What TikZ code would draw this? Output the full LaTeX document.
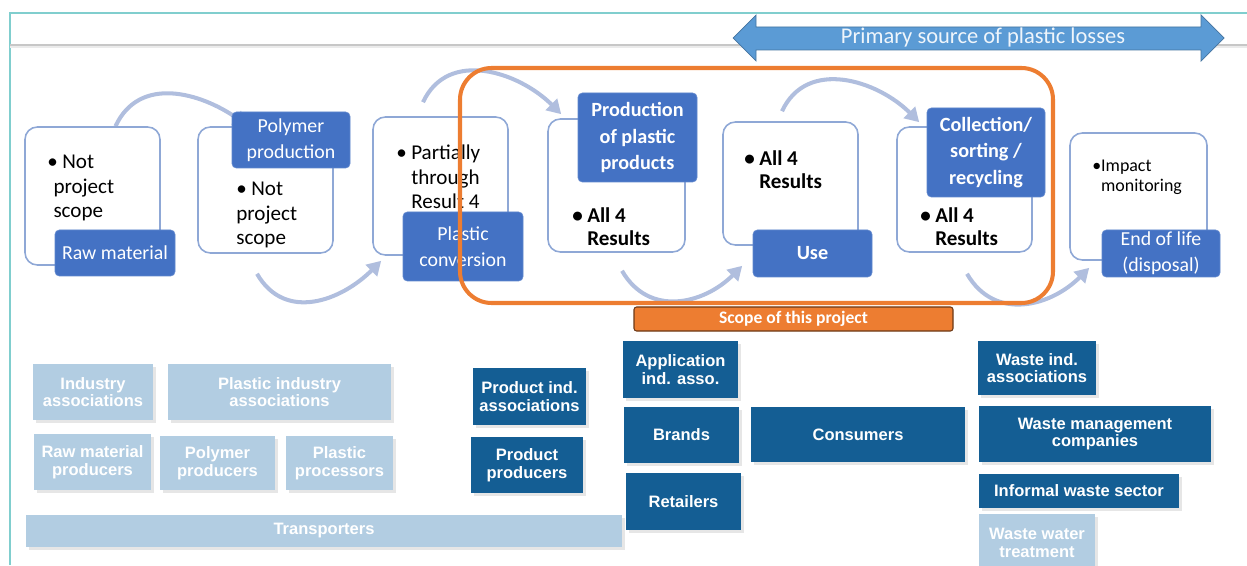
\documentclass[tikz,border=0pt]{standalone}
\usepackage{fontspec}
\setmainfont{Carlito}
\newfontfamily\actorfont{Liberation Sans}
\usetikzlibrary{arrows.meta,positioning,calc,shadows,backgrounds}
\definecolor{frameteal}{RGB}{128,206,206}
\definecolor{lossblue}{RGB}{91,155,213}
\definecolor{stepedge}{RGB}{143,168,214}
\definecolor{stepblue}{RGB}{68,114,196}
\definecolor{flowgrey}{RGB}{176,190,222}
\definecolor{scopeorange}{RGB}{237,125,49}
\definecolor{actordark}{RGB}{20,94,148}
\definecolor{actorlight}{RGB}{178,205,226}
\tikzset{
  sz/.style 2 args={minimum width=#1*0.02cm,minimum height=#2*0.02cm},
  stage/.style={draw=stepedge,line width=0.9pt,fill=white,rounded corners=7pt,inner sep=0pt},
  tag/.style={fill=stepblue,draw=stepblue!85!white,rounded corners=2.5pt,text=white,
    align=center,inner sep=0pt,font=\fontsize{11.3}{15}\selectfont},
  bold tag/.style={tag,font=\fontsize{11.5}{15}\selectfont\bfseries},
  note/.style={anchor=north west,align=left,inner sep=0pt,font=\fontsize{12}{13.8}\selectfont},
  bold note/.style={note,font=\fontsize{12}{13.5}\selectfont\bfseries},
  turn/.style={flowgrey,line width=2.3pt,-{Triangle[length=8pt,width=9pt]}},
  actor/.style={fill=#1,text=white,inner sep=0pt,align=center,
    font=\actorfont\bfseries\fontsize{9.4}{10}\selectfont,
    drop shadow={shadow xshift=1.5pt,shadow yshift=-1.5pt,opacity=0.2}},
  actor/.default=actordark,
}
\newcommand{\bl}{\makebox[8.5pt][l]{\textbullet}}
\newcommand{\ind}{\hspace*{8.5pt}}

\begin{document}
\begin{tikzpicture}[x=0.02cm,y=0.02cm]
  \useasboundingbox (0,0) rectangle (1247,565);
  % slide frame
  \draw[frameteal,line width=0.8pt] (10,0) -- (10,552) -- (1247,552);
  \draw[black!22,line width=1.2pt] (10,520) -- (1247,520);
  \draw[black!8,line width=1.5pt] (10,518) -- (1247,518);

  % losses arrow
  \filldraw[fill=lossblue,draw=lossblue!75!black,line width=0.4pt]
    (733,527) -- (756,550) -- (756,538) -- (1201,538) -- (1201,550) -- (1224,527)
    -- (1201,504) -- (1201,515) -- (756,515) -- (756,504) -- cycle;
  \node[text=white!90!lossblue,font=\fontsize{12.8}{15}\selectfont] (loss) at (983,527)
    {Primary source of plastic losses};

  % value chain stages
  \node[stage,sz={135}{138}] (s1) at (92.5,369) {};
  \node[stage,sz={135}{126}] (s2) at (265.5,375) {};
  \node[stage,sz={135}{138}] (s3) at (440.5,379) {};
  \node[stage,sz={137}{133}] (s4) at (616.5,379.5) {};
  \node[stage,sz={135}{123}] (s5) at (790.5,381.5) {};
  \node[stage,sz={135}{125}] (s6) at (964.5,375.5) {};
  \node[stage,sz={137}{127}] (s7) at (1138.5,368.5) {};

  \node[note] (t1) at (47,410) {\bl Not\\\hspace*{3.5pt}project\\\hspace*{3.5pt}scope};
  \node[note] (t2) at (236,383) {\bl Not\\project\\scope};
  \node[note] (t3) at (396,420) {\bl Partially\\\ind through\\\ind Result 4};
  \node[bold note] (t4) at (572,358) {\bl All 4\\\ind Results};
  \node[bold note] (t5) at (744,415) {\bl All 4\\\ind Results};
  \node[bold note] (t6) at (920,358) {\bl All 4\\\ind Results};
  \node[note,font=\fontsize{10.2}{11}\selectfont] (t7) at (1092,405)
    {\makebox[5pt][l]{\textbullet}Impact\\\hspace*{5pt}monitoring};

  \node[tag,sz={120}{46}] (l1) at (115,312) {Raw material};
  \node[tag,sz={118}{56}] (l2) at (291,425) {Polymer\\production};
  \node[tag,sz={120}{69}] (l3) at (463,318.5) {Plastic\\conversion};
  \node[bold tag,sz={119}{89}] (l4) at (637.5,427.5) {Production\\of plastic\\products};
  \node[bold tag,sz={119}{47}] (l5) at (812.5,311.5) {Use};
  \node[bold tag,sz={118}{89}] (l6) at (986,412.5) {Collection/\\sorting /\\recycling};
  \node[tag,sz={118}{47}] (l7) at (1161,311.5) {End of life\\(disposal)};

  \begin{scope}[on background layer]
    \draw[turn] ($(s1.north)+(23,0)$) to[out=65,in=145,looseness=1.1] ($(l2.north west)+(16,-14)$);
    \draw[turn] ($(s2.south)+(-8.5,-20)$) to[out=-60,in=-135,looseness=1.15] ($(s3.south west)+(9,-5)$);
    \draw[turn] ($(s3.north)+(-17.5,14)$) to[out=65,in=135,looseness=1.1] ($(s4.north west)+(14,4)$);
    \draw[turn] ($(s4.south)+(5.5,-18)$) to[out=-60,in=-135,looseness=1.15] ($(s5.south west)+(20,-20)$);
    \draw[turn] ($(s5.north)+(-8.5,10)$) to[out=65,in=135,looseness=1.1] ($(s6.north west)+(23,4)$);
    \draw[turn] ($(s6.south)+(2.5,-21)$) to[out=-60,in=-135,looseness=1.15] ($(s7.south west)+(20,-7)$);
  \end{scope}

  % project scope
  \draw[scopeorange,line width=2.3pt,rounded corners=18pt] (460,262) rectangle (1053,497);
  \node[fill=scopeorange,draw=black!55!scopeorange,line width=0.6pt,rounded corners=1.5pt,
    sz={319}{24},inner sep=0pt,text=white,font=\fontsize{10}{12}\selectfont\bfseries]
    (scope) at (793.5,246) {Scope of this project};

  % actors
  \foreach \nm/\x/\y/\w/\h/\col/\txt in {
      ia/93/173/120/56/actorlight/{Industry\\associations},
      pia/279.5/173/223/56/actorlight/{Plastic industry\\associations},
      rmp/92.5/103/117/56/actorlight/{Raw material\\producers},
      pp/217.5/102/115/54/actorlight/{Polymer\\producers},
      pcs/339.5/102/107/54/actorlight/{Plastic\\processors},
      tr/324/34/596/32/actorlight/{Transporters},
      pind/529.5/168.5/113/57/actordark/{Product ind.\\associations},
      prp/527/100/112/56/actordark/{Product\\producers},
      aia/680.5/195.5/115/57/actordark/{Application\\ind. asso.},
      br/681.5/130/115/56/actordark/{Brands},
      ret/683.5/63.5/115/57/actordark/{Retailers},
      con/858/130.5/214/55/actordark/{Consumers},
      wia/1037/197/118/54/actordark/{Waste ind.\\associations},
      wmc/1095/131/232/56/actordark/{Waste management\\companies},
      iws/1079/74/200/34/actordark/{Informal waste sector},
      wwt/1037/22/116/58/actorlight/{Waste water\\treatment}}
    \node[actor=\col,sz={\w}{\h}] (\nm) at (\x,\y) {\txt};
\end{tikzpicture}
\end{document}
